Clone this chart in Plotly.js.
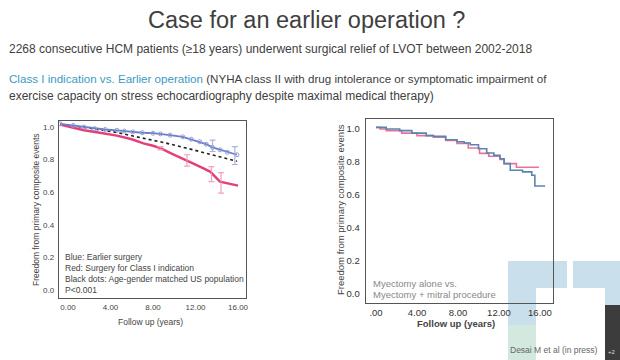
<!DOCTYPE html>
<html>
<head>
<meta charset="utf-8">
<script src="https://cdn.plot.ly/plotly-3.0.1.min.js"></script>
<style>html,body{margin:0;padding:0;background:#fff;}#chart{width:620px;height:360px;}</style>
</head>
<body>
<div id="chart"></div>
<script>
// ---- Left panel: Class I indication vs earlier surgery ----
var leftBlueT = [-0.75, 0.5, 1.5, 2.5, 3.5, 4.6, 5.3, 6.1, 7.0, 8.0, 8.7, 9.6, 10.8, 11.6, 12.4, 13.0, 13.6, 14.3, 15.0, 15.9];
var leftBlueV = [1.02, 1.01, 1.00, 0.99, 0.985, 0.98, 0.975, 0.97, 0.965, 0.962, 0.958, 0.95, 0.94, 0.925, 0.91, 0.895, 0.875, 0.86, 0.845, 0.83];
var leftRedT = [-0.75, 0.5, 1.5, 3.0, 4.6, 6.0, 7.1, 8.0, 8.7, 9.8, 10.9, 11.8, 12.8, 13.4, 14.3, 15.0, 16.0];
var leftRedV = [1.015, 0.995, 0.98, 0.965, 0.947, 0.925, 0.90, 0.885, 0.87, 0.835, 0.80, 0.775, 0.745, 0.725, 0.665, 0.655, 0.64];
var leftUsT = [-0.75, 2.0, 4.6, 6.8, 9.0, 11.2, 13.5, 15.9];
var leftUsV = [1.02, 0.995, 0.967, 0.935, 0.905, 0.87, 0.83, 0.79];
var redErrT = [8.7, 11.2, 13.5, 14.4];
var redErrV = [0.87, 0.79, 0.72, 0.66];
var redErrPlus = [0.01, 0.04, 0.037, 0.06];
var redErrMinus = [0.01, 0.03, 0.055, 0.065];
var blueErrT = [13.6, 15.7];
var blueErrV = [0.875, 0.835];
var blueErrPlus = [0.045, 0.045];
var blueErrMinus = [0.025, 0.065];

// ---- Right panel: myectomy alone vs myectomy + mitral ----
var rightBlueT = [0, 1.0, 2.3, 3.5, 4.9, 5.6, 6.8, 7.9, 8.6, 9.2, 10.0, 10.8, 11.5, 12.1, 12.5, 13.1, 14.3, 15.2, 15.5, 16.5];
var rightBlueV = [1.01, 1.0, 0.99, 0.975, 0.96, 0.955, 0.935, 0.923, 0.915, 0.905, 0.88, 0.855, 0.84, 0.82, 0.79, 0.75, 0.74, 0.72, 0.655, 0.655];
var rightPinkT = [0, 0.4, 1.0, 2.5, 4.0, 5.6, 6.8, 7.9, 9.0, 10.1, 11.0, 12.1, 12.5, 13.7, 15.9];
var rightPinkV = [1.01, 1.0, 0.99, 0.975, 0.96, 0.95, 0.93, 0.913, 0.885, 0.852, 0.835, 0.816, 0.79, 0.768, 0.768];

var yTickVals = [0, 0.2, 0.4, 0.6, 0.8, 1.0];
var yTickText = ["0.0", "0.2", "0.4", "0.6", "0.8", "1.0"];
var xTickVals = [0, 4, 8, 12, 16];
var leftXTickText = ["0.00", "4.00", "8.00", "12.00", "16.00"];
var rightXTickText = [".00", "4.00", "8.00", "12.00", "16.00"];

var titleText = "Case for an earlier operation ?";
var subText = "2268 consecutive HCM patients (\u226518 years) underwent surgical relief of LVOT between 2002-2018";
var line3Blue = "Class I indication vs. Earlier operation";
var line3Rest = " (NYHA class II with drug intolerance or symptomatic impairment of";
var line4 = "exercise capacity on stress echocardiography despite maximal medical therapy)";
var yTitle = "Freedom from primary composite events";
var xTitle = "Follow up (years)";
var leftNotes = ["Blue: Earlier surgery", "Red: Surgery for Class I indication", "Black dots: Age-gender matched US population", "P<0.001"];
var rightNotes = ["Myectomy alone vs.", "Myectomy + mitral procedure"];
var citation = "Desai M et al (in press)";

var RED = "#e43f7a", BLUE = "#6a7cc8";

var traces = [
  {x: leftUsT, y: leftUsV, xaxis: "x", yaxis: "y", mode: "lines", line: {color: "#222", width: 1.6, dash: "dot"}, hoverinfo: "skip"},
  {x: leftRedT, y: leftRedV, xaxis: "x", yaxis: "y", mode: "lines", line: {color: RED, width: 2.4}, hoverinfo: "skip"},
  {x: leftBlueT, y: leftBlueV, xaxis: "x", yaxis: "y", mode: "lines+markers", line: {color: BLUE, width: 1.8},
   marker: {symbol: "circle-open", size: 4, color: "#8f9fd8"}, hoverinfo: "skip"},
  {x: redErrT, y: redErrV, xaxis: "x", yaxis: "y", mode: "markers", marker: {size: 1, color: RED},
   error_y: {type: "data", symmetric: false, array: redErrPlus, arrayminus: redErrMinus, color: "#f2a0bd", thickness: 1.2, width: 3}, hoverinfo: "skip"},
  {x: blueErrT, y: blueErrV, xaxis: "x", yaxis: "y", mode: "markers", marker: {size: 1, color: BLUE},
   error_y: {type: "data", symmetric: false, array: blueErrPlus, arrayminus: blueErrMinus, color: "#a9b3e0", thickness: 1.2, width: 3}, hoverinfo: "skip"},
  {x: rightPinkT, y: rightPinkV, xaxis: "x2", yaxis: "y2", mode: "lines", line: {color: "#e8739a", width: 1.6, shape: "hv"}, hoverinfo: "skip"},
  {x: rightBlueT, y: rightBlueV, xaxis: "x2", yaxis: "y2", mode: "lines", line: {color: "#5b84b1", width: 1.6, shape: "hv"}, hoverinfo: "skip"}
];

var FONT = "Liberation Sans, Arial, sans-serif";
function axisBase(extra) {
  var a = {showgrid: false, zeroline: false, showline: true, mirror: true, linecolor: "#555", linewidth: 1.3,
           ticks: "", fixedrange: true};
  for (var k in extra) a[k] = extra[k];
  return a;
}

var annotations = [];
function addText(x, y, text, size, color, anchor, extra) {
  var a = {xref: "paper", yref: "paper", x: x / 620, y: 1 - y / 360, text: text, showarrow: false,
           xanchor: anchor || "left", yanchor: "middle", font: {family: FONT, size: size, color: color}};
  for (var k in extra) a[k] = extra[k];
  annotations.push(a);
}
addText(306, 20, titleText, 23.5, "#404040", "center");
addText(7, 49, subText, 12, "#404040", "left");
addText(7, 78, "<span style='color:#3a9bc4'>" + line3Blue + "</span>" + line3Rest, 11.6, "#404040", "left");
addText(7, 96, line4, 12, "#404040", "left");
for (var i = 0; i < leftNotes.length; i++) addText(63, 257 + i * 11, leftNotes[i], 8.5, "#444", "left");
for (var j = 0; j < rightNotes.length; j++) addText(371, 283 + j * 11.5, rightNotes[j], 9.5, "#888", "left");
addText(150, 322, xTitle, 8.5, "#444", "center");
addText(456, 323, "<b>" + xTitle + "</b>", 9.5, "#444", "center");
addText(36, 210, yTitle, 8.5, "#444", "center", {textangle: -90});
addText(340, 210, yTitle, 9.5, "#444", "center", {textangle: -90});
addText(600, 350, citation, 8.5, "#666", "right");
addText(612, 352, "+2", 6, "#ddd", "center");

var shapes = [
  {type: "rect", xref: "paper", yref: "paper", x0: 508/620, x1: 567/620, y0: 1-345/360, y1: 1-261/360, fillcolor: "#c9dfeb", line: {width: 0}, layer: "below"},
  {type: "rect", xref: "paper", yref: "paper", x0: 573/620, x1: 1, y0: 1-345/360, y1: 1-261/360, fillcolor: "#c9dfeb", line: {width: 0}, layer: "below"},
  {type: "rect", xref: "paper", yref: "paper", x0: 508/620, x1: 536/620, y0: 0, y1: 1-325/360, fillcolor: "#d3e8de", line: {width: 0}, layer: "below"},
  {type: "rect", xref: "paper", yref: "paper", x0: 536/620, x1: 605/620, y0: 0, y1: 1-288/360, fillcolor: "#ffffff", line: {width: 0}, layer: "below"},
  {type: "rect", xref: "paper", yref: "paper", x0: 605/620, x1: 1, y0: 0, y1: 1-305/360, fillcolor: "#3c3c3c", line: {width: 0}, layer: "below"}
];

var layout = {
  width: 620, height: 360, margin: {l: 0, r: 0, t: 0, b: 0},
  paper_bgcolor: "#ffffff", plot_bgcolor: "rgba(0,0,0,0)", showlegend: false,
  font: {family: FONT, color: "#444"},
  xaxis: axisBase({domain: [59/620, 246/620], range: [-0.847, 16.75], tickvals: xTickVals, ticktext: leftXTickText,
                   tickfont: {size: 8, color: "#444"}, anchor: "y", ticklabelstandoff: 1}),
  yaxis: axisBase({domain: [1-298/360, 1-121/360], range: [-0.049, 1.037], tickvals: yTickVals, ticktext: yTickText,
                   tickfont: {size: 8, color: "#444"}, anchor: "x", ticklabelstandoff: 2}),
  xaxis2: axisBase({domain: [366/620, 553/620], range: [-0.976, 17.27], tickvals: xTickVals, ticktext: rightXTickText,
                    tickfont: {size: 9.5, color: "#333"}, anchor: "y2", ticklabelstandoff: 0}),
  yaxis2: axisBase({domain: [1-303/360, 1-119/360], range: [-0.0545, 1.0606], tickvals: yTickVals, ticktext: yTickText,
                    tickfont: {size: 9.5, color: "#333"}, anchor: "x2", ticklabelstandoff: 3}),
  annotations: annotations,
  shapes: shapes
};

Plotly.newPlot("chart", traces, layout, {staticPlot: true, displayModeBar: false});
</script>
</body>
</html>
